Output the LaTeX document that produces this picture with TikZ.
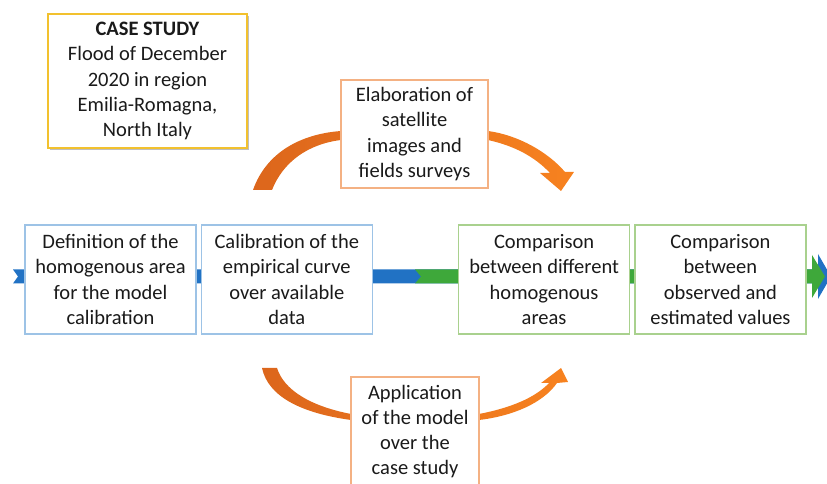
\documentclass[tikz,border=0pt]{standalone}
\usepackage{fontspec}
\setmainfont{Carlito}
\usetikzlibrary{positioning, shadows, backgrounds}
\usepackage{xcolor}
\definecolor{caseyellow}{HTML}{F2C12E}
\definecolor{stepblue}{HTML}{9DC3E6}
\definecolor{stepgreen}{HTML}{A9D18E}
\definecolor{softorange}{HTML}{F4B183}
\definecolor{flowblue}{HTML}{2172C4}
\definecolor{flowgreen}{HTML}{3EA83A}
\definecolor{arcorange}{HTML}{F7821F}
\definecolor{arcdark}{HTML}{DC661C}
\definecolor{darkgray}{HTML}{1A1A1A}

\begin{document}
\begin{tikzpicture}[
    x=0.03cm, y=-0.03cm,
    font=\fontsize{17.5}{21.5}\selectfont,
    % Estilos de bloques
    stepbox/.style={
        rectangle,
        fill=white,
        minimum width=5.13cm,
        minimum height=3.27cm,
        align=center,
        line width=1.1pt,
        inner sep=2pt,
        text=darkgray
    },
    bluebox/.style={stepbox, draw=stepblue},
    greenbox/.style={stepbox, draw=stepgreen},
    orangebox/.style={
        rectangle,
        draw=softorange,
        fill=white,
        line width=1.1pt,
        align=center,
        inner sep=2pt,
        text=darkgray
    },
    casebox/.style={
        rectangle,
        draw=caseyellow,
        fill=white,
        line width=1.6pt,
        minimum width=5.97cm,
        minimum height=4.02cm,
        align=center,
        text=darkgray,
        drop shadow={shadow xshift=1.5pt, shadow yshift=-1.5pt, fill=black, opacity=0.25}
    },
    arcflow/.style={left color=arcdark, right color=arcorange}
]

    \clip (0,0) rectangle (827,484);

    % ==========================================
    % 1. CASE STUDY
    % ==========================================
    \node[casebox] (case) at (147.5,81) {
        \textbf{CASE STUDY}\\
        Flood of December\\
        2020 in region\\
        Emilia-Romagna,\\
        North Italy
    };

    % ==========================================
    % 2. STEPS (linea principal)
    % ==========================================
    \node[bluebox] (define) at (110.5,279.5) {
        Definition of the\\ homogenous area\\ for the model\\ calibration
    };
    \node[bluebox, right=0.12cm of define] (calib) {
        Calibration of the\\ empirical curve\\ over available\\ data
    };
    \node[greenbox, right=2.55cm of calib] (areas) {
        Comparison\\ between different\\ homogenous\\ areas
    };
    \node[greenbox, right=0.12cm of areas] (values) {
        Comparison\\ between\\ observed and\\ estimated values
    };

    % ==========================================
    % 3. SIDE STEPS (arriba y abajo)
    % ==========================================
    \node[orangebox, minimum width=4.41cm, minimum height=3.24cm] (satellite) at (414.5,134) {
        Elaboration of\\ satellite\\ images and\\ fields surveys
    };
    \node[orangebox, minimum width=3.84cm, minimum height=3.27cm] (apply) at (415,431.5) {
        Application\\ of the model\\ over the\\ case study
    };

    % ==========================================
    % FLUJOS (detras de los bloques)
    % ==========================================
    \begin{scope}[on background layer]
        % Banda azul (completa, la punta asoma a la derecha)
        \fill[flowblue] (13,269.5) -- (818,269.5) -- (818,254) -- (831,276.5) -- (818,299)
            -- (818,283.5) -- (13,283.5) -- (18,276.5) -- cycle;
        % Banda verde
        \fill[flowgreen] (415,269.5) -- (812,269.5) -- (812,255) -- (825,276.5) -- (812,298)
            -- (812,283.5) -- (415,283.5) -- (421,276.5) -- cycle;

        % Arco superior
        \shade[arcflow] (253,190) .. controls (266,153) and (300,134) .. (341,131)
            -- (488,131) .. controls (518,135) and (548,152) .. (565,172)
            -- (574,172) -- (561,191) -- (540,173) -- (550,173)
            .. controls (535,157) and (515,146) .. (488,140)
            -- (341,140) .. controls (308,144) and (283,162) .. (272,190) -- cycle;

        % Arco inferior
        \shade[arcflow] (262,368) .. controls (268,396) and (300,413) .. (351,420)
            -- (479,420) .. controls (513,416) and (543,403) .. (557,383)
            -- (568,382) -- (561,368) -- (541,383) -- (549,383)
            .. controls (535,398) and (510,408) .. (479,414)
            -- (351,414) .. controls (310,406) and (284,390) .. (277,368) -- cycle;
    \end{scope}

\end{tikzpicture}
\end{document}
